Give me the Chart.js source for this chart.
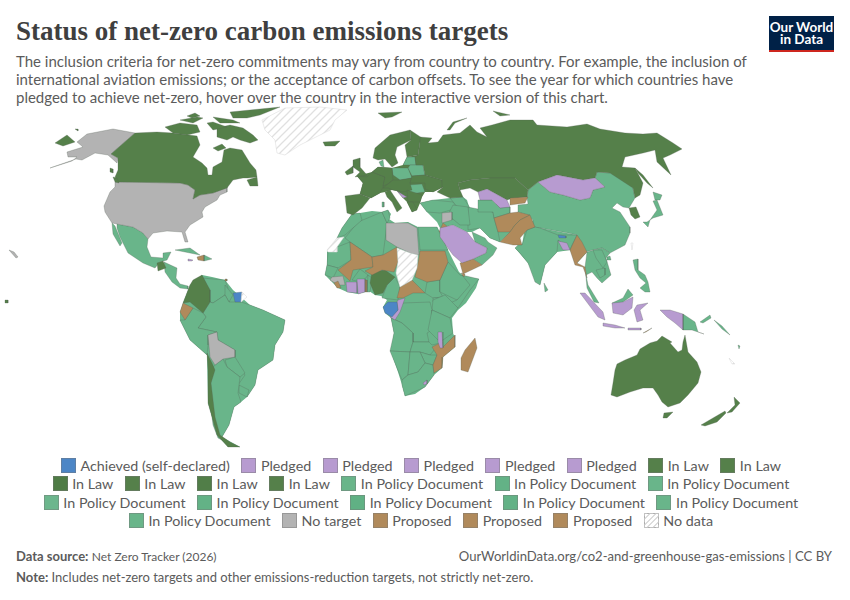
<!DOCTYPE html>
<html>
<head>
<meta charset="utf-8">
<title>Status of net-zero carbon emissions targets</title>
<script src="https://cdn.jsdelivr.net/npm/chart.js@4/dist/chart.umd.min.js"></script>
<style>
  html, body { margin: 0; padding: 0; background: #fff; }
  body { width: 850px; height: 600px; position: relative; overflow: hidden; font-family: Lato, sans-serif; color: #5b5b5b; }
  .abs { position: absolute; white-space: nowrap; }
  #title { left: 16px; top: 15px; font: bold 27px/32px "Liberation Serif", serif; color: #3f3f3f; }
  #subtitle { left: 16px; top: 52px; font-size: 15px; line-height: 18px; }
  #logo { left: 769px; top: 16px; width: 65px; height: 34px; background: #002147; border-bottom: 2px solid #ce261e; color: #fff; font-weight: 700; font-size: 13.5px; line-height: 12.5px; text-align: center; }
  #logo div { padding-top: 4.5px; }
  #map { position: absolute; left: 0; top: 105px; }
  #legend { position: absolute; left: 33px; top: 456px; width: 776px; display: flex; flex-wrap: wrap; justify-content: center; column-gap: 11.5px; }
  .item { display: flex; align-items: center; height: 18.5px; font-size: 14.3px; }
  .box { width: 15px; height: 15px; box-sizing: border-box; margin-right: 4.5px; border: 0.5px solid rgba(120,120,120,.45); }
  #source { left: 16px; top: 548px; font-size: 13px; }
  #source span { font-size: 12px; }
  #url { right: 18px; top: 548px; font-size: 13.1px; }
  #note { left: 16px; top: 569px; font-size: 13px; }
</style>
</head>
<body>
<div class="abs" id="title">Status of net-zero carbon emissions targets</div>
<div class="abs" id="subtitle">The inclusion criteria for net-zero commitments may vary from country to country. For example, the inclusion of<br>international aviation emissions; or the acceptance of carbon offsets. To see the year for which countries have<br>pledged to achieve net-zero, hover over the country in the interactive version of this chart.</div>
<div class="abs" id="logo"><div>Our World<br>in Data</div></div>
<canvas id="map" width="850" height="350"></canvas>
<div id="legend"></div>
<div class="abs" id="source"><b>Data source:</b> <span>Net Zero Tracker (2026)</span></div>
<div class="abs" id="url">OurWorldinData.org/co2-and-greenhouse-gas-emissions | CC BY</div>
<div class="abs" id="note"><b>Note:</b> Includes net-zero targets and other emissions-reduction targets, not strictly net-zero.</div>

<script>
const legendLabels = ['Achieved (self-declared)', 'Pledged', 'Pledged', 'Pledged', 'Pledged', 'Pledged', 'In Law', 'In Law',
    'In Law', 'In Law', 'In Law', 'In Law', 'In Policy Document', 'In Policy Document', 'In Policy Document',
    'In Policy Document', 'In Policy Document', 'In Policy Document', 'In Policy Document', 'In Policy Document',
    'In Policy Document', 'No target', 'Proposed', 'Proposed', 'Proposed', 'No data'];
const legendColors = ['#4c86c6', '#b79bd0', '#b79bd0', '#b79bd0', '#b79bd0', '#b79bd0', '#55804a', '#55804a',
    '#4f7c45', '#55804a', '#517e48', '#55804a', '#69b58a', '#63b286', '#69b58a',
    '#6cb68d', '#63b286', '#60b184', '#63b286', '#69b58a',
    '#69b58a', '#b3b3b3', '#b08a5b', '#b08a5b', '#b08a5b', 'hatch'];

// outlines, one list per landmass
const africaBase = [[352,214],[360,213],[372,211],[382,212],[388,210],[391,214],[389,219],[395,223],[408,222],[418,227],[437,227],[441,235],[448,250],[452,258],[459,272],[465,277],[479,279],[476,288],[466,303],[458,310],[452,318],[453,333],[455,338],[455,347],[443,357],[442,368],[434,375],[425,387],[415,394],[405,396],[402,385],[398,372],[391,352],[394,333],[391,318],[385,313],[383,307],[387,300],[381,296],[375,295],[369,291],[358,294],[347,292],[338,288],[331,281],[325,275],[327,265],[327,252],[337,238],[342,228]];
const southAmericaBase = [[202,275],[212,277],[225,280],[233,290],[250,305],[263,310],[285,320],[283,332],[275,345],[273,360],[258,370],[255,385],[247,397],[241,402],[234,407],[229,425],[222,437],[240,447],[228,447],[217,435],[212,417],[208,403],[207,355],[190,340],[180,320],[180,312],[183,303],[190,285]];
const middleEastBase = [[420,203],[433,200],[450,198],[463,197],[467,200],[470,210],[478,212],[478,200],[510,207],[510,213],[530,215],[500,242],[490,238],[480,228],[472,232],[467,232],[453,225],[440,228],[437,222],[427,212]];
const southAsiaBase = [[527,215],[540,228],[577,235],[587,252],[577,263],[570,250],[557,252],[545,265],[540,285],[528,263],[515,248],[522,245]];
const europeBase = [[357,176],[372,172],[378,167],[392,168],[403,165],[407,157],[418,155],[425,175],[442,180],[443,187],[433,192],[425,192],[422,197],[420,203],[417,210],[412,212],[407,202],[403,198],[397,191],[392,190],[385,192],[380,193],[371,198],[360,194],[363,183]];

const alaska = [[135,133],[113,129],[87,134],[77,142],[83,147],[67,152],[68,157],[77,157],[72,161],[50,168],[76,159],[82,160],[95,153],[108,155],[117,163],[118,158],[111,154]];
const usa = [[115,182],[180,183],[188,185],[195,190],[193,199],[200,195],[213,193],[227,187],[227,192],[220,195],[217,200],[205,207],[202,212],[203,217],[190,225],[185,232],[188,242],[185,242],[182,232],[167,231],[153,233],[148,239],[143,233],[133,227],[117,224],[112,223],[105,212],[104,206],[110,192],[115,187]];
const hawaii = [[9,250],[14,252],[18,257],[16,258]];
const bolivia = [[208,335],[217,332],[218,340],[235,350],[235,357],[223,359],[215,365],[210,357]];
const libya = [[386,223],[395,223],[408,223],[417,228],[419,255],[410,253],[397,247],[386,240]];
const syria = [[442,213],[452,212],[452,220],[442,223]];
const guinea = [[332,277],[343,276],[345,285],[338,285],[330,280]];

const canada = [[135,133],[157,132],[173,133],[197,136],[200,145],[193,157],[202,163],[207,168],[208,175],[212,175],[213,167],[222,162],[224,150],[230,148],[242,150],[250,163],[256,170],[257,177],[248,178],[243,178],[233,180],[227,188],[213,193],[200,195],[193,199],[195,190],[188,185],[180,183],[118,182],[115,177],[118,170],[118,158],[111,154]];
const baffin = [[217,128],[230,125],[243,128],[253,135],[258,140],[250,143],[240,140],[233,137],[227,140],[217,137]];
const victoriaIsland = [[165,127],[180,123],[197,125],[200,132],[187,135],[173,133]];
const ellesmere = [[230,112],[250,110],[280,107],[260,115],[247,118],[233,118]];
const banks = [[180,120],[197,117],[203,118],[193,123]];
const devon = [[207,123],[213,122],[227,127],[213,130]];
const melville = [[213,117],[233,120],[240,123],[220,123]];
const somerset = [[187,116],[195,113],[200,116],[192,118]];
const southampton = [[213,148],[222,144],[226,148],[218,151]];
const newfoundland = [[247,180],[257,177],[258,186],[250,186]];
const vancouver = [[113,177],[117,178],[119,183],[115,182]];
const haidaGwaii = [[110,168],[113,169],[113,173],[110,172]];
const chukotka = [[55,143],[67,135],[75,142],[63,146]];
const aleutian = [[75,129],[78,129],[78,131]];
const guatemala = [[157,263],[163,261],[166,268],[158,271]];
const colombia = [[202,275],[210,290],[210,302],[203,313],[190,302],[183,303],[190,285],[193,280]];
const chile = [[207,353],[212,363],[215,370],[211,383],[215,417],[220,435],[230,442],[240,447],[228,447],[217,435],[212,417],[208,403],[208,370]];
const iceland = [[323,142],[340,141],[335,146],[325,146]];
const svalbard = [[378,113],[402,112],[392,117],[385,118]];
const novayaZemlya = [[447,130],[453,122],[467,118],[455,123],[450,130]];
const severnaya = [[493,111],[510,115],[500,116]];
const britain = [[353,160],[360,158],[360,167],[367,175],[355,177],[360,172],[353,167]];
const ireland = [[345,172],[353,166],[353,173],[347,175]];
const scandinavia = [[373,158],[375,148],[390,135],[410,130],[411,140],[405,143],[397,147],[395,155],[398,163],[392,167],[385,159],[378,160]];
const finland = [[410,130],[422,138],[420,142],[418,155],[407,157],[405,145],[411,140]];
const iberia = [[345,196],[360,194],[370,198],[362,208],[353,215],[347,213]];
const france = [[372,172],[385,177],[383,187],[380,193],[371,198],[360,194],[363,183],[357,176],[367,177]];
const germany = [[372,172],[378,167],[392,168],[393,180],[388,184],[383,186],[385,177]];
const centralEurope = [[393,180],[400,180],[412,178],[410,183],[412,190],[403,192],[393,190],[388,188],[383,188],[388,184]];
const ukraine = [[412,176],[425,175],[442,180],[443,187],[433,192],[425,189],[425,183],[410,183]];
const italy = [[385,192],[390,190],[392,193],[402,208],[397,212],[392,202],[387,197]];
const serbia = [[407,190],[422,195],[420,202],[408,202]];
const greece = [[407,202],[413,202],[417,210],[412,212]];
const russia = [[420,137],[432,138],[428,143],[438,142],[443,135],[460,133],[470,125],[477,132],[487,137],[480,128],[492,125],[510,120],[533,120],[537,125],[567,127],[587,124],[600,129],[625,133],[643,134],[657,133],[673,143],[682,149],[670,155],[663,158],[671,175],[657,162],[655,150],[643,153],[625,157],[622,167],[635,168],[643,183],[640,195],[635,198],[633,188],[610,173],[597,172],[595,178],[583,180],[557,175],[538,182],[528,190],[515,178],[490,178],[470,180],[458,183],[460,190],[463,197],[450,198],[437,192],[443,187],[442,180],[425,175],[423,165],[416,165],[415,157],[418,155],[420,142]];
const kazakhstan = [[460,190],[470,188],[478,192],[487,189],[507,200],[510,199],[527,197],[528,190],[515,178],[490,178],[470,180],[458,183]];
const sakhalin = [[635,168],[643,175],[653,188],[647,183],[638,173]];
const southKorea = [[629,208],[636,207],[640,217],[635,219],[631,215]];
const nigeria = [[372,272],[385,270],[395,277],[387,285],[383,293],[375,295],[370,283]];
const australia = [[611,395],[613,383],[615,370],[617,364],[625,360],[637,355],[640,349],[650,343],[657,341],[662,336],[672,342],[670,343],[678,352],[682,350],[683,342],[685,335],[688,352],[697,362],[701,372],[698,383],[688,395],[680,403],[668,407],[662,402],[658,395],[653,388],[643,388],[630,392],[617,397]];
const tasmania = [[664,413],[673,412],[667,418],[663,418]];
const newZealandSouth = [[701,425],[713,418],[725,411],[726,413],[717,422],[705,426]];
const newZealandNorth = [[727,413],[735,405],[734,397],[740,403],[732,412]];
const pacificDot = [[5,300],[8,300],[8,303],[5,303]];

const mexico = [[117,224],[133,227],[143,233],[148,239],[147,247],[151,257],[163,258],[163,253],[171,252],[167,260],[160,262],[155,268],[143,263],[128,253],[120,237],[117,228]];
const baja = [[112,223],[115,226],[122,243],[120,246],[113,234]];
const centralAmerica = [[164,262],[177,268],[176,278],[180,284],[188,286],[188,289],[180,288],[172,282],[165,272]];
const cuba = [[175,250],[190,248],[200,255],[190,253]];
const dominicanRep = [[204,255],[212,259],[204,261]];
const venezuela = [[202,278],[225,280],[228,288],[225,295],[213,303],[210,302],[210,290]];
const guyana = [[225,285],[233,295],[229,302],[225,295]];
const brazil = [[213,303],[225,295],[229,302],[235,302],[241,302],[250,305],[263,310],[285,320],[283,332],[275,345],[273,360],[258,370],[255,385],[247,397],[238,385],[245,375],[235,358],[235,350],[218,340],[217,332],[198,328],[206,317],[203,313],[210,302]];
const peru = [[185,320],[193,308],[203,313],[206,317],[198,328],[217,332],[208,335],[208,345],[207,355],[190,340],[180,320]];
const paraguay = [[225,360],[235,357],[245,373],[240,377],[227,367]];
const uruguay = [[239,385],[249,390],[247,397],[239,393]];
const argentina = [[215,365],[223,359],[227,367],[240,377],[238,393],[241,402],[234,407],[229,425],[222,437],[226,442],[218,438],[213,425],[210,400],[211,370]];
const denmark = [[379,162],[383,160],[384,167],[381,166]];
const poland = [[392,168],[408,168],[412,178],[400,180],[393,175]];
const baltics = [[407,157],[415,157],[416,165],[403,165]];
const belarus = [[410,165],[423,165],[425,175],[412,176],[408,168]];
const romania = [[408,185],[422,184],[425,192],[410,194]];
const sardinia = [[382,202],[384,202],[384,207],[382,207]];
const turkey = [[420,203],[433,200],[453,202],[458,208],[440,213],[427,212]];
const caucasus = [[450,198],[463,197],[470,208],[458,208]];
const china = [[528,190],[538,182],[550,192],[563,195],[580,200],[590,198],[593,190],[605,187],[595,178],[597,172],[610,173],[628,178],[633,188],[635,198],[629,208],[623,207],[617,203],[612,208],[620,212],[630,227],[630,233],[625,245],[610,253],[602,248],[593,250],[585,252],[577,235],[568,233],[540,228],[533,227],[533,220],[527,215],[518,212],[518,205],[528,204],[527,197]];
const iran = [[468,207],[493,212],[494,218],[498,232],[500,242],[490,238],[480,228],[468,230]];
const centralAsia = [[478,200],[492,200],[500,208],[510,207],[510,213],[494,218],[493,212],[478,212]];
const iraq = [[453,205],[468,207],[470,225],[460,225],[448,215]];
const oman = [[482,265],[493,255],[497,248],[488,242],[485,238],[472,232],[475,242],[487,248],[486,253],[473,259]];
const india = [[522,245],[527,230],[535,227],[540,228],[558,235],[562,235],[577,235],[572,245],[570,250],[565,245],[558,240],[557,252],[545,265],[540,285],[535,282],[528,263],[520,253],[515,248],[520,243]];
const sriLanka = [[544,283],[548,290],[545,292]];
const indochina = [[587,252],[602,248],[610,253],[606,258],[611,275],[602,283],[597,278],[592,272],[586,275],[588,285],[599,303],[594,302],[587,288],[585,267]];
const laos = [[593,250],[602,250],[607,262],[603,268],[596,258]];
const cambodia = [[596,270],[605,268],[605,275],[600,278]];
const hainan = [[607,257],[610,256],[611,260],[607,260]];
const philippines = [[633,260],[638,259],[638,270],[645,275],[648,282],[650,292],[645,292],[640,288],[646,283],[640,278],[635,270]];
const sabah = [[612,303],[623,298],[628,289],[633,295],[623,302],[613,305]];
const png = [[683,314],[695,322],[698,332],[704,334],[692,330],[683,330]];
const newBritain = [[700,322],[710,315],[711,318],[703,323]];
const solomons = [[714,320],[722,326],[730,335],[722,329]];
const hokkaido = [[653,192],[662,195],[660,200],[655,200]];
const honshu = [[657,200],[663,215],[653,218],[647,222],[643,222],[648,227],[650,220],[657,210],[653,201]];
const algeria = [[345,238],[358,222],[382,212],[387,223],[385,240],[383,255],[372,257],[350,242]];
const morocco = [[352,214],[360,213],[362,220],[345,235],[337,238],[342,228]];
const tunisia = [[382,212],[388,210],[390,218],[387,223]];
const mauritania = [[337,247],[350,242],[351,260],[338,268],[327,265],[328,252]];
const egypt = [[418,227],[437,227],[448,250],[420,250]];
const senegal = [[327,265],[338,268],[333,278],[325,275]];
const burkina = [[352,280],[360,269],[368,275],[365,279],[357,281]];
const togo = [[368,275],[372,278],[370,292],[367,292]];
const cameroon = [[395,277],[400,287],[398,300],[382,298],[387,285]];
const southSudan = [[425,293],[427,282],[440,280],[440,292],[443,297],[433,298]];
const uganda = [[433,298],[443,297],[443,305],[433,302]];
const ethiopia = [[448,262],[460,275],[478,280],[457,300],[440,292],[440,280]];
const somalia = [[462,275],[479,279],[470,290],[458,308],[450,303],[457,300],[470,285]];
const kenya = [[433,300],[445,295],[458,308],[450,318],[432,310]];
const drc = [[392,318],[403,303],[430,302],[432,310],[432,330],[427,333],[429,342],[413,342],[413,333],[402,323]];
const angola = [[391,318],[402,323],[413,333],[413,342],[410,352],[390,351],[394,333]];
const zambia = [[413,342],[429,342],[432,345],[440,343],[430,355],[420,352],[410,352]];
const tanzania = [[432,310],[450,318],[453,333],[440,342],[428,330]];
const zimbabwe = [[420,352],[430,355],[437,355],[433,365],[425,363]];
const namibia = [[390,351],[410,352],[408,375],[402,380],[397,368]];
const botswana = [[410,352],[420,352],[425,363],[418,372],[408,375]];
const southAfrica = [[402,380],[408,375],[418,372],[425,363],[433,365],[434,375],[425,387],[405,396],[402,385]];
const fiji = [[738,345],[740,346],[739,349]];

const jordan = [[443,223],[448,227],[443,232],[439,232]];
const afghanistan = [[494,218],[510,213],[518,212],[530,215],[520,220],[515,225],[510,232],[498,232]];
const pakistan = [[530,215],[535,227],[527,230],[520,238],[522,245],[513,245],[500,242],[510,232],[515,225],[520,220]];
const kyrgyzstan = [[510,198],[528,197],[525,203],[510,205]];
const yemen = [[460,263],[473,259],[482,265],[463,274]];
const mali = [[350,242],[372,257],[373,267],[353,270],[350,281],[338,270],[351,260]];
const niger = [[372,257],[383,255],[397,247],[398,262],[394,272],[382,270],[372,275],[365,271],[373,267]];
const sudan = [[420,251],[445,251],[448,262],[440,280],[427,282],[415,277],[418,263]];
const car = [[400,287],[412,280],[425,293],[413,293],[403,298],[397,298]];
const liberia = [[334,283],[338,281],[341,288],[337,288]];
const benin = [[365,280],[367,280],[367,292],[365,292]];
const djibouti = [[461,273],[465,274],[464,277]];
const mozambique = [[432,347],[442,342],[442,348],[455,335],[455,347],[443,357],[442,368],[434,373],[433,365],[437,355]];
const madagascar = [[475,338],[477,348],[468,372],[461,370],[461,358],[465,350]];
const myanmar = [[577,235],[582,242],[587,252],[577,263],[585,267],[587,278],[583,267],[575,265],[570,250]];
const ecuador = [[183,303],[193,308],[185,320],[180,312]];
const haiti = [[197,257],[204,255],[204,261],[198,260]];
const trinidad = [[225,279],[227,279],[227,281],[225,281]];
const timor = [[643,333],[652,328],[646,332]];

const mongolia = [[538,182],[557,175],[583,180],[595,178],[605,187],[593,190],[590,198],[580,200],[563,195],[550,192]];
const saudi = [[440,228],[453,225],[467,232],[475,242],[487,248],[486,253],[473,259],[462,263],[453,255],[440,237]];
const uzbekistan = [[478,192],[487,189],[507,200],[510,207],[500,208],[492,200],[480,200]];
const bosnia = [[397,191],[407,197],[403,198]];
const jamaica = [[188,259],[193,260],[192,261],[188,261]];
const bangladesh = [[558,241],[567,243],[570,250],[563,250]];
const sumatra = [[580,293],[585,293],[603,312],[605,320],[598,317]];
const java = [[603,323],[615,325],[625,328],[615,328],[603,326]];
const sunda = [[628,328],[641,328],[641,330],[628,330]];
const kalimantan = [[612,303],[623,302],[633,297],[632,308],[623,315],[613,313]];
const sulawesi = [[637,305],[648,303],[640,310],[643,320],[637,322],[634,310]];
const westPapua = [[660,310],[670,310],[683,314],[683,330],[675,323],[667,317]];
const ivoryCoast = [[346,282],[357,282],[357,293],[347,292]];
const ghana = [[357,279],[365,279],[365,292],[358,294]];
const congo = [[398,300],[405,298],[400,312],[395,320],[390,317],[398,310],[397,302]];
const malawi = [[438,332],[442,332],[443,348],[440,348],[438,342]];
const lesotho = [[423,383],[427,380],[427,384],[424,385]];

const suriname = [[233,293],[242,292],[241,302],[235,302]];
const gabon = [[383,307],[388,302],[397,302],[398,310],[392,317],[385,313]];
const bhutan = [[558,235],[566,236],[566,238],[559,238]];

const greenland = [[262,120],[285,108],[320,107],[347,110],[335,120],[330,130],[320,135],[300,145],[285,155],[277,153],[275,140],[265,130]];
const westernSahara = [[327,250],[337,238],[344,237],[337,247],[337,252],[328,252]];
const chad = [[397,248],[410,253],[418,255],[417,268],[412,280],[400,287],[396,273],[398,262]];
const frenchGuiana = [[242,292],[247,297],[241,302]];
const taiwan = [[631,243],[633,243],[632,250]];
const newCaledonia = [[729,358],[735,364],[732,364]];

// painted in this order, bases have no outline and only close the gaps between countries
const statusGroups = [
    { color: '#69b58a', base: true, shapes: [africaBase, southAmericaBase, middleEastBase, southAsiaBase] },
    { color: '#55804a', base: true, shapes: [europeBase] },
    { color: '#69b58a', shapes: [mexico, baja, centralAmerica, cuba, dominicanRep, venezuela, guyana, brazil, peru, paraguay, uruguay, argentina, denmark, poland, baltics, belarus, romania, sardinia, turkey, caucasus, china, iran, centralAsia, iraq, oman, india, sriLanka, indochina, laos, cambodia, hainan, philippines, sabah, png, newBritain, solomons, hokkaido, honshu, algeria, morocco, tunisia, mauritania, egypt, senegal, burkina, togo, cameroon, southSudan, uganda, ethiopia, somalia, kenya, drc, angola, zambia, tanzania, zimbabwe, namibia, botswana, southAfrica, fiji] },
    { color: '#b3b3b3', shapes: [alaska, usa, hawaii, bolivia, libya, syria, guinea] },
    { color: '#55804a', shapes: [canada, baffin, victoriaIsland, ellesmere, banks, devon, melville, somerset, southampton, newfoundland, vancouver, haidaGwaii, chukotka, aleutian, guatemala, colombia, chile, iceland, svalbard, novayaZemlya, severnaya, britain, ireland, scandinavia, finland, iberia, france, germany, centralEurope, ukraine, italy, serbia, greece, russia, kazakhstan, sakhalin, southKorea, nigeria, australia, tasmania, newZealandSouth, newZealandNorth, pacificDot] },
    { color: '#b08a5b', shapes: [jordan, afghanistan, pakistan, kyrgyzstan, yemen, mali, niger, sudan, car, liberia, benin, djibouti, mozambique, madagascar, myanmar, ecuador, haiti, trinidad, timor] },
    { color: '#b79bd0', shapes: [mongolia, saudi, uzbekistan, bosnia, jamaica, bangladesh, sumatra, java, sunda, kalimantan, sulawesi, westPapua, ivoryCoast, ghana, congo, malawi, lesotho] },
    { color: '#4c86c6', shapes: [suriname, gabon, bhutan] },
    { color: 'hatch', shapes: [greenland, westernSahara, chad, frenchGuiana, taiwan, newCaledonia] },
];

const makeHatch = () => {
    const c = document.createElement('canvas');
    c.width = 8;
    c.height = 8;
    const ctx = c.getContext('2d');
    ctx.fillStyle = '#fff';
    ctx.fillRect(0, 0, 8, 8);
    ctx.strokeStyle = '#e0e0e0';
    ctx.lineWidth = 1.3;
    ctx.beginPath();
    ctx.moveTo(-2, 2); ctx.lineTo(2, -2);
    ctx.moveTo(-2, 10); ctx.lineTo(10, -2);
    ctx.moveTo(6, 10); ctx.lineTo(10, 6);
    ctx.stroke();
    return ctx.createPattern(c, 'repeat');
}

const main = () => {
    const hatch = makeHatch();
    const datasets = [];
    statusGroups.forEach((group) => {
        group.shapes.forEach((shape) => {
            const isHatch = group.color === 'hatch';
            datasets.push({
                data: shape.concat([shape[0]]),
                showLine: true,
                fill: 'shape',
                tension: 0,
                pointRadius: 0,
                borderWidth: group.base ? 0 : 0.5,
                borderColor: isHatch ? '#d8d8d8' : 'rgba(85,95,85,0.55)',
                backgroundColor: isHatch ? hatch : group.color,
                clip: false,
            });
        });
    });

    // chart.js paints the last dataset first
    datasets.reverse();

    new Chart(document.getElementById('map'), {
        type: 'scatter',
        data: { datasets },
        options: {
            responsive: false,
            animation: false,
            layout: { padding: 0 },
            plugins: { legend: { display: false }, tooltip: { enabled: false } },
            scales: {
                x: { type: 'linear', display: false, min: 0, max: 850 },
                y: { type: 'linear', display: false, min: 105, max: 455, reverse: true },
            },
        },
    });

    const legend = document.getElementById('legend');
    legendLabels.forEach((label, i) => {
        const item = document.createElement('div');
        item.className = 'item';
        const box = document.createElement('span');
        box.className = 'box';
        if (legendColors[i] === 'hatch') {
            box.style.background = 'repeating-linear-gradient(135deg, #fff 0 2.5px, #dcdcdc 2.5px 4px)';
        } else {
            box.style.background = legendColors[i];
        }
        item.appendChild(box);
        item.appendChild(document.createTextNode(label));
        legend.appendChild(item);
    });
}

window.onload = () => main()
</script>
</body>
</html>
